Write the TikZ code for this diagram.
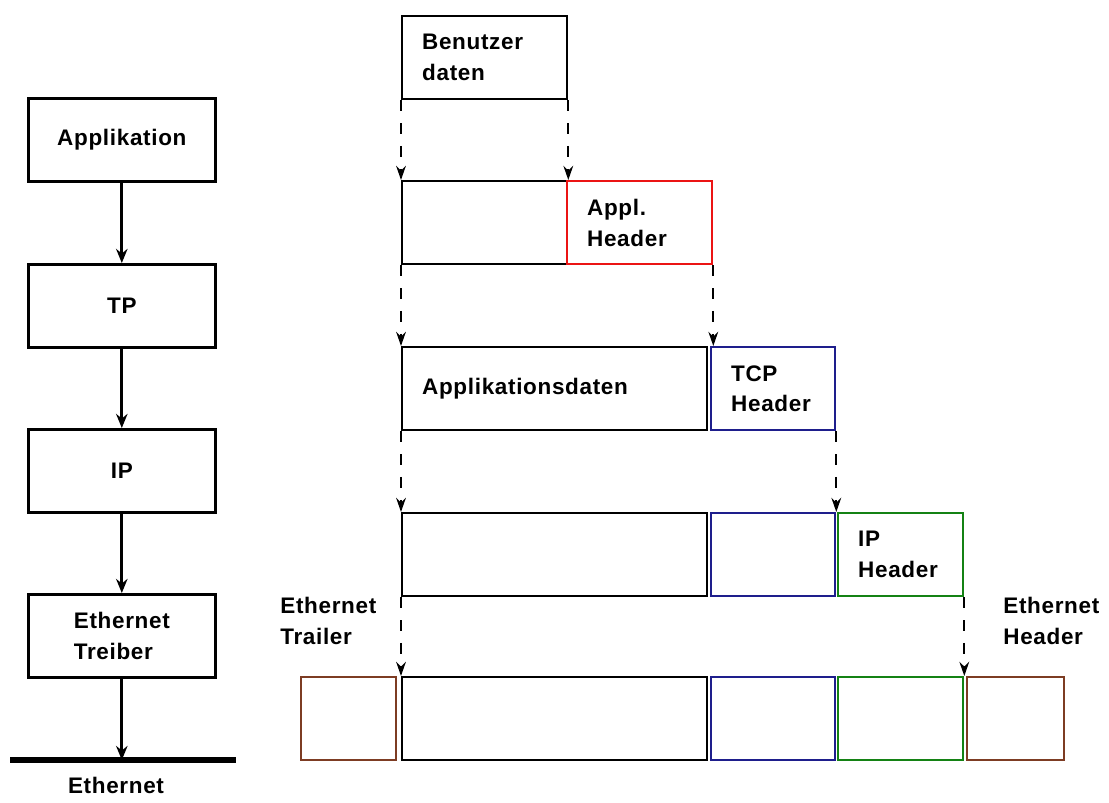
\documentclass[tikz,border=0pt]{standalone}
\usepackage{fontspec}
\setmainfont{Liberation Sans}[LetterSpace=3]
\usepackage{tikz}
\usetikzlibrary{positioning,arrows.meta}
\definecolor{hdrred}{RGB}{235,20,20}
\definecolor{hdrblue}{RGB}{30,30,140}
\definecolor{hdrgreen}{RGB}{20,130,20}
\definecolor{hdrbrown}{RGB}{125,60,35}
\tikzset{%
  every layer/.style={
    draw,
    line width=1.5pt,
    minimum width=3.74cm,
    minimum height=1.66cm,
    align=left,
    anchor=north west
  },
  every packet/.style={
    draw,
    line width=1.3pt,
    minimum height=1.66cm,
    inner xsep=0.4cm,
    inner ysep=0pt,
    align=left,
    anchor=north west
  },
}

\begin{document}
\begin{tikzpicture}[font=\fontsize{12.8}{17.5}\selectfont\bfseries]
		\useasboundingbox (0,0) rectangle (22.18,-16.06);
		\tikzstyle{flow}=[-{Stealth[length=8pt,width=6.5pt]},line width=1.7pt]
		\tikzstyle{wrap}=[-{Stealth[length=8pt,width=5.5pt]},line width=1.2pt,dash pattern=on 6pt off 7pt]
		% protocol stack
		\node[every layer](app) at (0.54,-1.94){Applikation};
		\node[every layer](tp) at (0.54,-5.26){TP};
		\node[every layer](ip) at (0.54,-8.56){IP};
		\node[every layer](drv) at (0.54,-11.86){Ethernet\\Treiber};
		\coordinate (busl) at (0.2,-15.2);
		\coordinate (busr) at (4.72,-15.2);
		\draw[line width=2.9pt] (busl) -- (busr);
		\node[anchor=base](bus) at (2.32,-15.86){Ethernet};
		\draw[flow] (app) -- (tp);
		\draw[flow] (tp) -- (ip);
		\draw[flow] (ip) -- (drv);
		\draw[flow] (drv) -- (drv.south |- busl);
		% encapsulation
		\node[every packet,minimum width=3.3cm,text width=2.5cm](usr) at (8.02,-0.30){Benutzer\\daten};
		\node[every packet,minimum width=3.3cm](d2) at (8.02,-3.60){};
		\node[every packet,draw=hdrred,minimum width=2.9cm,text width=2.1cm](ah) at (11.32,-3.60){Appl.\\Header};
		\node[every packet,minimum width=6.1cm,text width=5.3cm](d3) at (8.02,-6.92){Applikationsdaten};
		\node[every packet,draw=hdrblue,minimum width=2.48cm,text width=1.68cm](th3) at (14.20,-6.92){TCP\\Header};
		\node[every packet,minimum width=6.1cm](d4) at (8.02,-10.24){};
		\node[every packet,draw=hdrblue,minimum width=2.48cm](th4) at (14.20,-10.24){};
		\node[every packet,draw=hdrgreen,minimum width=2.5cm,text width=1.7cm](ih4) at (16.74,-10.24){IP\\Header};
		\node[every packet,draw=hdrbrown,minimum width=1.9cm](et) at (6.00,-13.52){};
		\node[every packet,minimum width=6.1cm](d5) at (8.02,-13.52){};
		\node[every packet,draw=hdrblue,minimum width=2.48cm](th5) at (14.20,-13.52){};
		\node[every packet,draw=hdrgreen,minimum width=2.5cm](ih5) at (16.74,-13.52){};
		\node[every packet,draw=hdrbrown,minimum width=1.94cm](eh) at (19.32,-13.52){};
		\node[align=left,anchor=north west,inner sep=0pt](etl) at (5.60,-11.94){Ethernet\\Trailer};
		\node[align=left,anchor=north west,inner sep=0pt](ehl) at (20.06,-11.94){Ethernet\\Header};
		\draw[wrap] (usr.south west) -- (d2.north west);
		\draw[wrap] (usr.south east) -- (d2.north east);
		\draw[wrap] (d2.south west) -- (d3.north west);
		\draw[wrap] (ah.south east) -- (ah.south east |- th3.north);
		\draw[wrap] (d3.south west) -- (d4.north west);
		\draw[wrap] (th3.south east) -- (th3.south east |- ih4.north);
		\draw[wrap] (d4.south west) -- (d5.north west);
		\draw[wrap] (ih4.south east) -- (ih4.south east |- ih5.north);
\end{tikzpicture}
\end{document}
